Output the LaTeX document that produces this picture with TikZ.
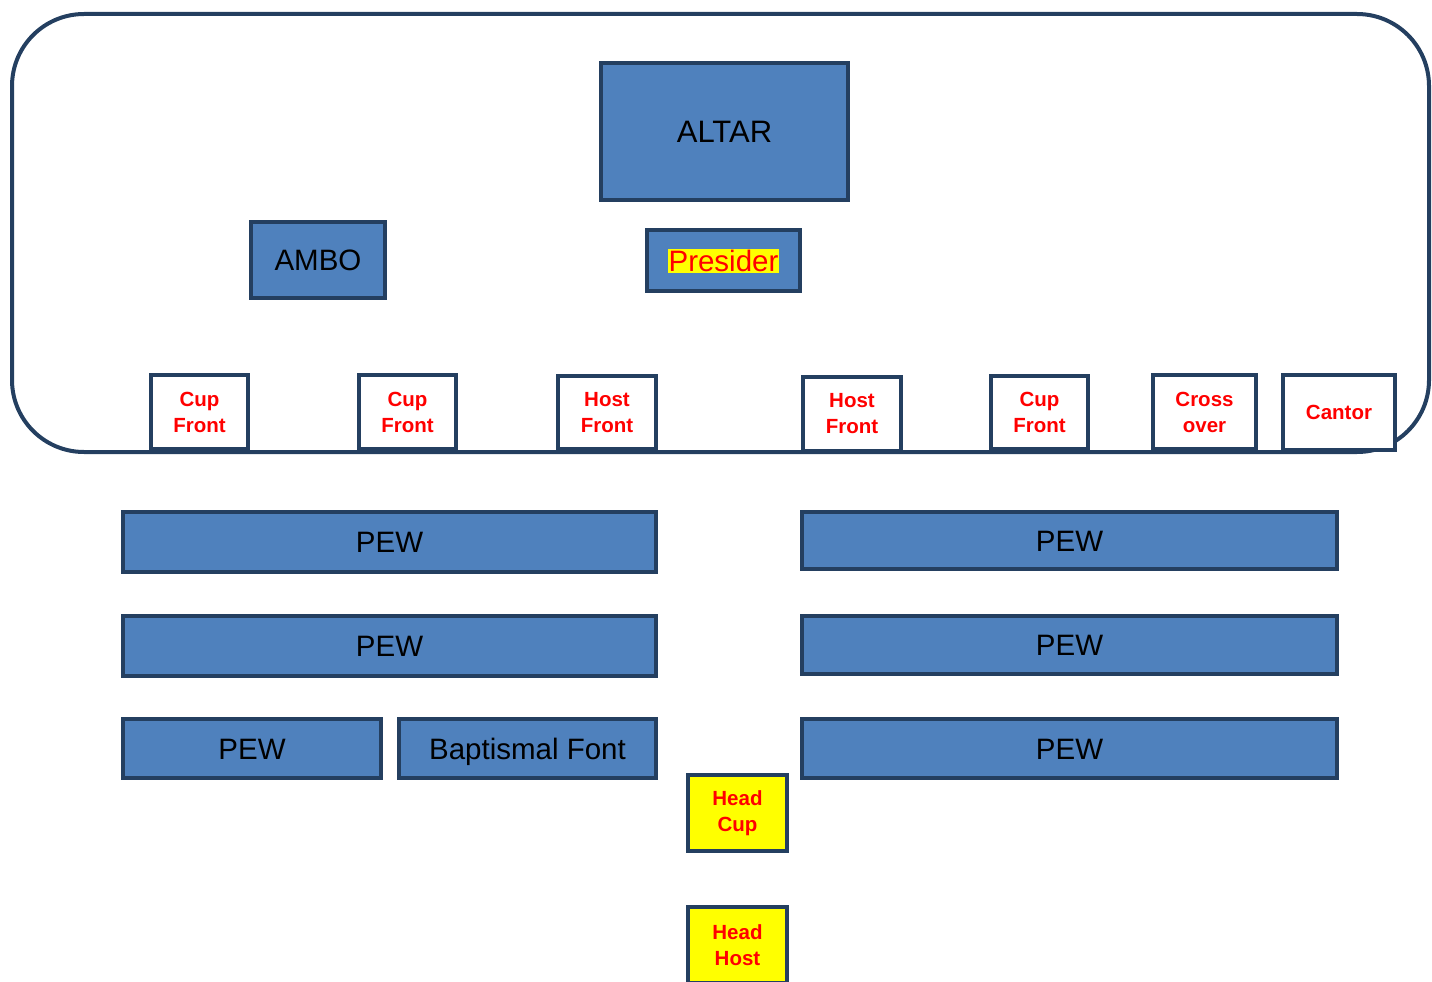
\documentclass[tikz,border=0pt]{standalone}
\usepackage{fontspec}
\setmainfont{Liberation Sans}
\definecolor{navy}{HTML}{243F60}
\definecolor{boxblue}{HTML}{4F81BD}
\definecolor{hlyellow}{HTML}{FFFF00}
\definecolor{txtred}{HTML}{FF0000}
\tikzset{
  bluebox/.style={draw=navy, line width=4pt, fill=boxblue, inner sep=0pt, font=\fontsize{29.5}{35}\selectfont, text=black, text height=21pt, text depth=0pt},
  smallbox/.style={draw=navy, line width=4pt, fill=white, inner sep=0pt, align=center, font=\fontsize{20.5}{26}\selectfont\bfseries, text=txtred},
  headbox/.style={smallbox, fill=hlyellow},
  frame/.style={draw=navy, line width=4pt, rounded corners=72pt}
}
\begin{document}
\begin{tikzpicture}[x=1pt,y=-1pt]
\useasboundingbox (0,0) rectangle (1432,982);
\clip (0,0) rectangle (1432,982);
\draw[frame] (12,14) rectangle (1429,452);
\node[bluebox, minimum width=247pt, minimum height=137pt, font=\fontsize{31}{37}\selectfont, text height=22pt] (altar) at (724.5,131.5) {ALTAR};
\node[bluebox, minimum width=134pt, minimum height=76pt] (ambo) at (318,260) {AMBO};
\node[bluebox, minimum width=153pt, minimum height=61pt, text height=22pt] (presider) at (723.5,260.5) {\setlength{\fboxsep}{1pt}\colorbox{hlyellow}{\textcolor{txtred}{Presider}}};
\node[smallbox, minimum width=97pt, minimum height=74pt] (cup1) at (199.5,412) {Cup\\Front};
\node[smallbox, minimum width=97pt, minimum height=74pt] (cup2) at (407.5,412) {Cup\\Front};
\node[smallbox, minimum width=98pt, minimum height=73pt] (host1) at (607,412.5) {Host\\Front};
\node[smallbox, minimum width=98pt, minimum height=74pt] (host2) at (852,414) {Host\\Front};
\node[smallbox, minimum width=97pt, minimum height=73pt] (cup3) at (1039.5,412.5) {Cup\\Front};
\node[smallbox, minimum width=103pt, minimum height=74pt] (cross) at (1204.5,412) {Cross\\over};
\node[smallbox, minimum width=112pt, minimum height=75pt] (cantor) at (1339,412.5) {Cantor};
\node[bluebox, minimum width=533pt, minimum height=60pt] (pewl1) at (389.5,542) {PEW};
\node[bluebox, minimum width=533pt, minimum height=60pt] (pewl2) at (389.5,646) {PEW};
\node[bluebox, minimum width=258pt, minimum height=59pt] (pewl3) at (252,748.5) {PEW};
\node[bluebox, minimum width=257pt, minimum height=59pt] (font) at (527.5,748.5) {Baptismal Font};
\node[bluebox, minimum width=535pt, minimum height=57pt] (pewr1) at (1069.5,540.5) {PEW};
\node[bluebox, minimum width=535pt, minimum height=58pt] (pewr2) at (1069.5,645) {PEW};
\node[bluebox, minimum width=535pt, minimum height=59pt] (pewr3) at (1069.5,748.5) {PEW};
\node[headbox, minimum width=99pt, minimum height=76pt] (headcup) at (737.5,813) {Head\\Cup};
\node[headbox, minimum width=99pt, minimum height=76pt] (headhost) at (737.5,945) {Head\\Host};
\end{tikzpicture}
\end{document}
